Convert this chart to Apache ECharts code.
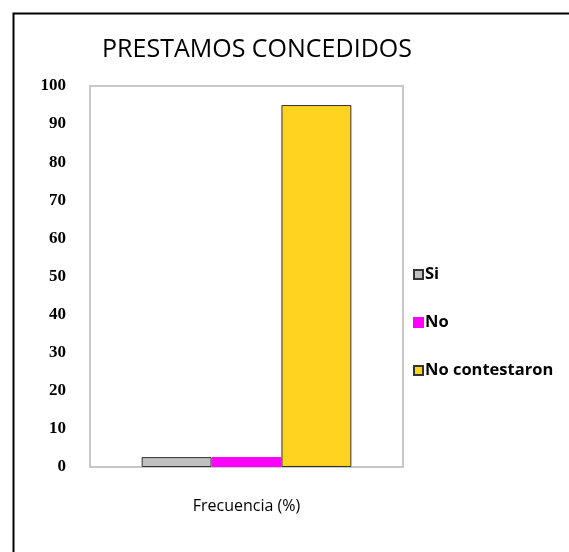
<!DOCTYPE html>
<html>
<head>
<meta charset="utf-8">
<script src="https://cdn.jsdelivr.net/npm/echarts@6/dist/echarts.min.js"></script>
<style>html,body{margin:0;padding:0;background:#fff}#c{width:569px;height:552px}</style>
</head>
<body>
<div id="c"></div>
<script>
const categories = ['Frecuencia (%)'];
const seriesNames = ['Si', 'No', 'No contestaron'];
const seriesValues = [[2.6], [2.6], [95]];
const seriesColors = ['#c0c0c0', '#ff00ff', '#ffd320'];
const seriesBorders = ['#333333', '#ff00ff', '#333333'];
const yTicks = { min: 0, max: 100, interval: 10 };

const chart = echarts.init(document.getElementById('c'), null, { renderer: 'canvas' });
chart.setOption({
  animation: false,
  backgroundColor: '#fff',
  title: {
    text: 'PRESTAMOS CONCEDIDOS',
    left: 252, top: 32, textAlign: 'center',
    textStyle: { fontFamily: 'Open Sans', fontWeight: 'normal', fontSize: 25, color: '#000' }
  },
  graphic: [{
    type: 'rect', left: 11, top: 11, z: 100,
    shape: { width: 600, height: 600 },
    style: { fill: 'none', stroke: '#000', lineWidth: 2 }
  }],
  legend: {
    orient: 'vertical', left: 408, top: 261, itemGap: 31,
    itemWidth: 9, itemHeight: 9,
    icon: 'rect',
    textStyle: { fontFamily: 'Open Sans', fontWeight: 'bold', fontSize: 16.5, color: '#000', padding: [0, 0, 0, -3] },
    data: seriesNames
  },
  grid: { left: 90, top: 86, width: 313, height: 381, show: true, borderColor: '#c8c8c8', borderWidth: 2, backgroundColor: 'transparent' },
  xAxis: {
    type: 'category', data: categories,
    axisLine: { show: false }, axisTick: { show: false },
    axisLabel: { margin: 31, fontFamily: 'Open Sans', fontSize: 16, color: '#000' }
  },
  yAxis: {
    type: 'value', min: yTicks.min, max: yTicks.max, interval: yTicks.interval,
    splitLine: { show: false }, axisLine: { show: false }, axisTick: { show: false },
    axisLabel: { margin: 24, fontFamily: 'Liberation Serif', fontWeight: 'bold', fontSize: 17, color: '#000' }
  },
  series: seriesNames.map((n, i) => ({
    name: n, type: 'bar', data: seriesValues[i],
    barGap: '0%', barCategoryGap: '33%',
    itemStyle: { color: seriesColors[i], borderColor: seriesBorders[i], borderWidth: 1 }
  }))
});
</script>
</body>
</html>
